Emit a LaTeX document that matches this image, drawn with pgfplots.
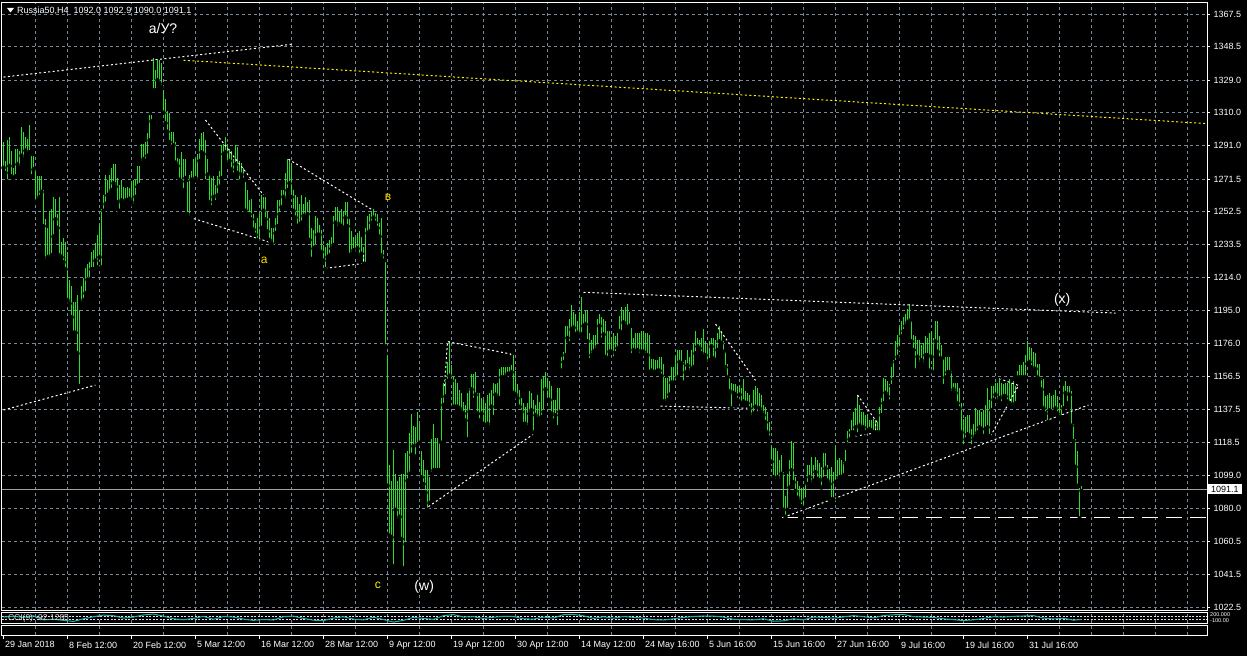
\documentclass[border=0pt]{standalone}
\usepackage{fontspec}
\setmainfont{Liberation Sans}
\usepackage{pgfplots}
\pgfplotsset{compat=1.18}
\usepackage{pgfplotstable}

\definecolor{barcol}{RGB}{40,225,40}
\definecolor{gridcol}{RGB}{119,136,153}
\definecolor{wavecol}{RGB}{255,220,0}
\definecolor{ccicol}{RGB}{32,178,170}
\definecolor{pricecol}{RGB}{160,160,160}

% H4 bars: x = screen column, lo / hi = low / high
\pgfplotstableread{
x lo hi
3 1278 1293
5 1275 1282
7 1270 1294
9 1279 1296
11 1273 1288
13 1272 1278
15 1273 1289
17 1280 1289
19 1278 1288
21 1285 1302
23 1283 1299
25 1288 1296
27 1286 1295
29 1287 1303
31 1273 1285
33 1277 1285
35 1258 1277
37 1259 1273
39 1261 1273
41 1264 1273
43 1244 1265
45 1224 1248
47 1226 1243
49 1225 1253
51 1227 1254
53 1238 1261
55 1248 1260
57 1243 1251
59 1227 1261
61 1226 1235
63 1223 1237
65 1219 1235
67 1201 1229
69 1199 1213
71 1191 1209
73 1182 1200
75 1182 1200
77 1170 1204
79 1151 1195
81 1199 1209
83 1201 1214
85 1205 1220
87 1213 1222
89 1213 1223
91 1219 1229
93 1219 1230
95 1224 1234
97 1220 1239
99 1226 1244
101 1220 1254
103 1253 1262
105 1257 1274
107 1262 1271
109 1263 1274
111 1265 1278
113 1269 1280
115 1267 1280
117 1258 1272
119 1253 1268
121 1259 1271
123 1257 1267
125 1259 1266
127 1259 1267
129 1260 1266
131 1258 1270
133 1256 1271
135 1261 1271
137 1267 1279
139 1268 1279
141 1281 1292
143 1283 1292
145 1282 1293
147 1285 1298
149 1294 1309
151 1305 1309
153 1323 1342
155 1323 1335
157 1329 1341
159 1327 1341
161 1325 1339
163 1310 1323
165 1304 1318
167 1299 1311
169 1293 1310
171 1290 1299
173 1291 1299
175 1281 1293
177 1279 1284
179 1271 1283
181 1270 1287
183 1265 1283
185 1272 1283
187 1251 1270
189 1249 1274
191 1271 1276
193 1270 1283
195 1272 1283
197 1270 1286
199 1282 1295
201 1287 1298
203 1286 1299
205 1270 1294
207 1274 1283
209 1258 1274
211 1255 1272
213 1261 1273
215 1258 1268
217 1262 1273
219 1267 1276
221 1272 1291
223 1286 1292
225 1287 1296
227 1280 1292
229 1282 1289
231 1277 1288
233 1274 1283
235 1280 1291
237 1275 1290
239 1270 1282
241 1274 1281
243 1271 1278
245 1253 1270
247 1251 1265
249 1251 1259
251 1248 1260
253 1242 1251
255 1239 1246
257 1236 1249
259 1234 1251
261 1243 1262
263 1253 1261
265 1248 1261
267 1241 1253
269 1236 1249
271 1234 1243
273 1232 1243
275 1240 1249
277 1244 1259
279 1251 1259
281 1255 1265
283 1261 1265
285 1259 1275
287 1265 1283
289 1269 1283
291 1261 1280
293 1253 1265
295 1249 1262
297 1244 1261
299 1245 1257
301 1246 1262
303 1250 1257
305 1249 1261
307 1251 1258
309 1236 1259
311 1225 1243
313 1231 1242
315 1232 1250
317 1239 1249
319 1239 1245
321 1229 1242
323 1224 1233
325 1219 1232
327 1226 1234
329 1227 1236
331 1231 1238
333 1233 1250
335 1246 1255
337 1243 1255
339 1245 1253
341 1244 1254
343 1243 1253
345 1249 1258
347 1244 1258
349 1227 1248
351 1228 1241
353 1230 1238
355 1228 1238
357 1231 1240
359 1227 1241
361 1228 1238
363 1222 1232
365 1222 1243
367 1240 1250
369 1241 1251
371 1246 1253
373 1249 1254
375 1246 1252
377 1243 1251
379 1238 1246
381 1227 1249
383 1224 1230
385 1174 1223
387 1093 1169
389 1064 1105
391 1063 1096
393 1046 1114
395 1079 1100
397 1073 1096
399 1075 1098
401 1062 1100
403 1045 1100
405 1059 1112
407 1096 1113
409 1100 1124
411 1111 1135
413 1116 1128
415 1110 1127
417 1117 1136
419 1118 1129
421 1098 1113
423 1094 1108
425 1089 1102
427 1079 1102
429 1083 1098
431 1100 1120
433 1102 1129
435 1102 1121
437 1102 1121
439 1102 1118
441 1118 1144
443 1140 1153
445 1145 1155
447 1154 1165
449 1157 1177
451 1154 1163
453 1139 1157
455 1139 1155
457 1139 1153
459 1138 1149
461 1136 1147
463 1135 1142
465 1131 1140
467 1120 1147
469 1136 1150
471 1149 1158
473 1143 1158
475 1146 1159
477 1135 1147
479 1131 1147
481 1135 1144
483 1129 1143
485 1128 1141
487 1129 1146
489 1127 1147
491 1139 1149
493 1133 1153
495 1146 1152
497 1144 1153
499 1144 1161
501 1156 1162
503 1156 1162
505 1156 1162
507 1158 1162
509 1158 1162
511 1159 1163
513 1147 1169
515 1146 1160
517 1144 1152
519 1139 1149
521 1136 1144
523 1129 1141
525 1129 1139
527 1127 1141
529 1135 1148
531 1137 1147
533 1124 1143
535 1134 1140
537 1132 1146
539 1132 1142
541 1133 1155
543 1136 1157
545 1149 1159
547 1143 1156
549 1143 1154
551 1135 1151
553 1131 1143
555 1134 1143
557 1127 1150
559 1136 1150
561 1160 1168
563 1165 1171
565 1169 1186
567 1179 1186
569 1176 1190
571 1184 1198
573 1185 1194
575 1181 1193
577 1182 1189
579 1180 1194
581 1181 1203
583 1186 1193
585 1187 1195
587 1177 1195
589 1166 1182
591 1169 1178
593 1171 1181
595 1172 1181
597 1174 1190
599 1186 1193
601 1178 1191
603 1181 1190
605 1168 1189
607 1167 1183
609 1171 1183
611 1171 1179
613 1167 1182
615 1170 1180
617 1173 1182
619 1183 1192
621 1182 1197
623 1188 1195
625 1186 1197
627 1184 1199
629 1186 1194
631 1169 1185
633 1172 1179
635 1171 1182
637 1172 1182
639 1169 1182
641 1171 1183
643 1171 1183
645 1169 1182
647 1169 1182
649 1159 1181
651 1160 1167
653 1159 1167
655 1159 1166
657 1160 1166
659 1160 1168
661 1157 1168
663 1142 1164
665 1141 1156
667 1143 1156
669 1146 1157
671 1153 1162
673 1153 1162
675 1153 1168
677 1156 1172
679 1165 1172
681 1164 1172
683 1153 1165
685 1159 1166
687 1163 1172
689 1159 1168
691 1161 1172
693 1162 1176
695 1170 1183
697 1174 1179
699 1173 1178
701 1170 1179
703 1168 1184
705 1169 1177
707 1164 1175
709 1166 1177
711 1174 1179
713 1167 1179
715 1166 1178
717 1172 1182
719 1177 1186
721 1176 1183
723 1171 1177
725 1162 1171
727 1156 1164
729 1148 1156
731 1138 1153
733 1147 1152
735 1146 1152
737 1143 1151
739 1146 1151
741 1141 1150
743 1142 1155
745 1141 1148
747 1141 1147
749 1138 1146
751 1133 1141
753 1135 1149
755 1139 1151
757 1135 1150
759 1138 1147
761 1136 1146
763 1134 1140
765 1130 1139
767 1124 1136
769 1121 1130
771 1107 1116
773 1098 1115
775 1096 1115
777 1098 1113
779 1096 1108
781 1100 1111
783 1079 1101
785 1075 1087
787 1079 1100
789 1092 1108
791 1102 1119
793 1095 1118
795 1090 1098
797 1086 1096
799 1084 1093
801 1081 1092
803 1080 1092
805 1085 1094
807 1094 1105
809 1098 1105
811 1094 1110
813 1096 1105
815 1101 1110
817 1097 1108
819 1096 1106
821 1092 1104
823 1097 1112
825 1103 1112
827 1096 1105
829 1094 1103
831 1085 1104
833 1085 1101
835 1095 1116
837 1096 1108
839 1098 1109
841 1098 1108
843 1099 1107
845 1106 1114
847 1117 1125
849 1120 1126
851 1124 1131
853 1124 1136
855 1127 1138
857 1123 1146
859 1128 1140
861 1126 1136
863 1127 1136
865 1124 1134
867 1125 1135
869 1126 1131
871 1125 1131
873 1124 1132
875 1124 1131
877 1124 1130
879 1124 1139
881 1134 1144
883 1141 1156
885 1147 1155
887 1145 1154
889 1142 1152
891 1151 1162
893 1155 1166
895 1165 1177
897 1168 1181
899 1173 1185
901 1180 1189
903 1183 1191
905 1186 1193
907 1188 1196
909 1189 1199
911 1177 1189
913 1172 1181
915 1160 1180
917 1168 1178
919 1164 1178
921 1166 1175
923 1164 1176
925 1169 1180
927 1169 1179
929 1160 1182
931 1168 1183
933 1159 1179
935 1177 1189
937 1171 1189
939 1167 1180
941 1167 1175
943 1151 1167
945 1156 1168
947 1159 1168
949 1159 1168
951 1147 1160
953 1149 1153
955 1147 1153
957 1141 1153
959 1138 1150
961 1124 1141
963 1116 1132
965 1120 1133
967 1123 1134
969 1122 1134
971 1116 1126
973 1120 1129
975 1122 1138
977 1124 1137
979 1127 1137
981 1126 1136
983 1122 1137
985 1126 1140
987 1127 1150
989 1122 1143
991 1137 1151
993 1143 1151
995 1146 1153
997 1142 1153
999 1144 1156
1001 1141 1153
1003 1145 1152
1005 1145 1153
1007 1142 1153
1009 1141 1155
1011 1140 1153
1013 1139 1154
1015 1141 1151
1017 1156 1160
1019 1156 1163
1021 1156 1163
1023 1156 1165
1025 1156 1169
1027 1164 1177
1029 1165 1174
1031 1162 1173
1033 1160 1171
1035 1161 1170
1037 1156 1164
1039 1155 1164
1041 1149 1156
1043 1138 1155
1045 1135 1145
1047 1130 1146
1049 1137 1147
1051 1136 1145
1053 1136 1146
1055 1138 1149
1057 1135 1145
1059 1133 1141
1061 1133 1140
1063 1138 1151
1065 1147 1154
1067 1141 1151
1069 1146 1151
1071 1128 1148
1073 1119 1129
1075 1104 1120
1077 1093 1113
1079 1074 1092
1081 1090 1093
}\bars

% x is a screen column; the half-column offset puts 1pt lines on whole pixels
\pgfplotsset{
  mtframe/.style={
    scale only axis, anchor=south west, width=1205pt,
    xmin=1.5, xmax=1206.5,
    axis line style={white, line width=1pt},
    clip=false,
    major grid style={gridcol, line width=0.9pt, dash pattern=on 3pt off 3pt},
    minor grid style={gridcol, line width=0.9pt, dash pattern=on 3pt off 3pt},
  },
  dots/.style={white, line width=1pt, dash pattern=on 2pt off 2.5pt},
}

\begin{document}
\begin{tikzpicture}[x=1pt,y=1pt]
\useasboundingbox (0,0) rectangle (1247,656);
\fill[black] (0,0) rectangle (1247,656);

% main price window
\begin{axis}[mtframe,
  at={(2pt,46pt)}, height=607pt,
  ymin=1020.75, ymax=1373.9,
  xtick={35,67,...,1187}, xticklabels={}, xmajorticks=false,
  xmajorgrids=true, ymajorgrids=true,
  ytick={1022.5,1041.5,1060.5,1080,1099,1118.5,1137.5,1156.5,1176,1195,1214,1233.5,1252.5,1271.5,1291,1310,1329,1348.5,1367.5},
  yticklabels={1022.5,1041.5,1060.5,1080.0,1099.0,1118.5,1137.5,1156.5,1176.0,1195.0,1214.0,1233.5,1252.5,1271.5,1291.0,1310.0,1329.0,1348.5,1367.5},
  ytick pos=right, yticklabel pos=right,
  tick align=outside, major tick length=3pt,
  ytick style={white, line width=0.8pt},
  yticklabel style={font=\fontsize{9}{10}\selectfont, text=white},
]
% current price line
\addplot[pricecol, line width=1pt] coordinates {(1.5,1091.1) (1206.5,1091.1)};
% bars
\addplot[only marks, mark=none,
  error bars/.cd, y dir=plus, y explicit, error mark=none,
  error bar style={barcol, line width=1pt}]
  table[x=x, y=lo, y error expr=\thisrow{hi}-\thisrow{lo}] {\bars};

% trend lines
\addplot[dots] coordinates {(3,1330.8) (293,1350.0)};
\addplot[yellow, line width=1pt, dash pattern=on 2pt off 2.5pt] coordinates {(183,1340.6) (1206.5,1303.7)};
\addplot[dots] coordinates {(3,1137.1) (95,1151.6)};
\addplot[dots] coordinates {(205,1305.8) (263,1262.2)};
\addplot[dots] coordinates {(189,1249.2) (275,1233.7)};
\addplot[dots] coordinates {(288,1283.0) (372,1253.5)};
\addplot[dots] coordinates {(325,1219.5) (363,1222.4) (363,1227.3)};
\addplot[dots] coordinates {(428,1080.9) (533,1123.1)};
\addplot[dots] coordinates {(444,1151.0) (447,1176.9) (510,1169.7) (511,1168.1)};
\addplot[dots] coordinates {(583,1205.6) (1115,1193.5)};
\addplot[dots] coordinates {(715,1187.1) (755,1154.3)};
\addplot[dots] coordinates {(660,1139.4) (748,1138.1)};
\addplot[dots] coordinates {(783,1074.7) (1088,1140.0)};
\addplot[dots] coordinates {(857,1145.8) (877,1129.6)};
\addplot[dots] coordinates {(855,1121.9) (875,1123.8) (875,1129.3)};
\addplot[dots] coordinates {(990,1121.9) (1018,1151.4) (1000,1155.1)};
\addplot[white, line width=1.3pt, dash pattern=on 16pt off 8pt] coordinates {(781,1074.7) (1206.5,1074.7)};

% wave labels
\node[text=white, font=\fontsize{14}{16}\selectfont] at (axis cs:162.5,1359.2) {a/У?};
\node[text=wavecol, font=\fontsize{12}{14}\selectfont] at (axis cs:387.5,1260.6) {в};
\node[text=wavecol, font=\fontsize{12}{14}\selectfont] at (axis cs:263.7,1224.2) {a};
\node[text=yellow, font=\fontsize{12}{14}\selectfont] at (axis cs:377.3,1035.2) {c};
\node[text=white, font=\fontsize{14}{16}\selectfont] at (axis cs:423.7,1034.4) {(w)};
\node[text=white, font=\fontsize{14}{16}\selectfont] at (axis cs:1061.7,1201.1) {(x)};
\node[fill=white, text=black, inner xsep=3pt, inner ysep=1.5pt, anchor=west,
  font=\fontsize{9}{10}\selectfont] at (axis cs:1207.5,1091.1) {1091.1};
\end{axis}

% CCI sub-window
\begin{axis}[mtframe,
  at={(2pt,33pt)}, height=11pt,
  ymin=-300, ymax=328,
  xtick={35,67,...,1187}, xticklabels={}, xmajorticks=false,
  ytick=\empty, xmajorgrids=true,
]
\addplot[white!75!gridcol, line width=0.8pt, dash pattern=on 2pt off 1.5pt] coordinates {(1.5,100) (1206.5,100)};
\addplot[white!75!gridcol, line width=0.8pt, dash pattern=on 2pt off 1.5pt] coordinates {(1.5,-100) (1206.5,-100)};
\addplot[ccicol, line width=1pt] coordinates {
(3,40) (13,80) (23,20) (33,110) (43,-120) (53,-90) (63,-150) (73,-210) (83,-60) (93,60)
(103,150) (113,120) (123,-20) (133,40) (143,160) (153,210) (163,90) (173,-60) (183,-110) (193,-40)
(203,80) (213,-90) (223,70) (233,40) (243,-80) (253,-150) (263,-100) (273,-130) (283,60) (293,90)
(303,-40) (313,-140) (323,-160) (333,-20) (343,60) (353,-80) (363,-120) (373,30) (383,-100) (393,-250)
(403,-150) (413,20) (423,-40) (433,-90) (443,120) (453,180) (463,40) (473,60) (483,-40) (493,30)
(503,80) (513,70) (523,-60) (533,-80) (543,40) (553,-20) (563,180) (573,190) (583,110) (593,-40)
(603,60) (613,-30) (623,70) (633,20) (643,-20) (653,-110) (663,-130) (673,-60) (683,20) (693,70)
(703,100) (713,90) (723,40) (733,-90) (743,-110) (753,-120) (763,-60) (773,-200) (783,-180) (793,-60)
(803,-120) (813,40) (823,20) (833,-30) (843,50) (853,120) (863,60) (873,-10) (883,130) (893,170)
(903,190) (913,60) (923,40) (933,20) (943,-60) (953,-110) (963,-160) (973,-120) (983,-40) (993,60)
(1003,40) (1013,80) (1023,100) (1033,120) (1043,-20) (1053,-70) (1063,-30) (1073,-140) (1081,-92)
};
\node[anchor=west, text=white!70!gray, font=\fontsize{8.5}{9}\selectfont] at (axis cs:4,-60) {CCI(9) -92.1285};
\node[anchor=west, text=white, inner sep=0pt, font=\fontsize{5.5}{6}\selectfont] at (axis cs:1209.5,200) {200.000};
\node[anchor=west, text=white, inner sep=0pt, font=\fontsize{5.5}{6}\selectfont] at (axis cs:1209.5,-190) {-100.00};
\end{axis}

% empty lower window with the time scale
\begin{axis}[mtframe,
  at={(2pt,21pt)}, height=10pt,
  ymin=0, ymax=1, ytick=\empty,
  xtick={3,67,...,1027},
  xticklabels={29 Jan 2018,8 Feb 12:00,20 Feb 12:00,5 Mar 12:00,16 Mar 12:00,28 Mar 12:00,9 Apr 12:00,19 Apr 12:00,30 Apr 12:00,14 May 12:00,24 May 16:00,5 Jun 16:00,15 Jun 16:00,27 Jun 16:00,9 Jul 16:00,19 Jul 16:00,31 Jul 16:00},
  minor xtick={35,99,...,1187,1091,1155},
  xmajorgrids=false, xminorgrids=true,
  xtick pos=bottom, tick align=outside,
  major tick length=4pt, minor tick length=0pt,
  xtick style={white, line width=1pt},
  xticklabel style={font=\fontsize{9}{10}\selectfont, text=white, anchor=north west, xshift=-2pt, yshift=1pt},
]
\end{axis}

% symbol and quote line
\fill[white] (7,648) -- (14,648) -- (10.5,643.5) -- cycle;
\node[anchor=west, text=white, inner sep=0pt, font=\fontsize{9}{10}\selectfont] at (17,645.5) {Russia50,H4\ \ 1092.0 1092.9 1090.0 1091.1};
\end{tikzpicture}
\end{document}
